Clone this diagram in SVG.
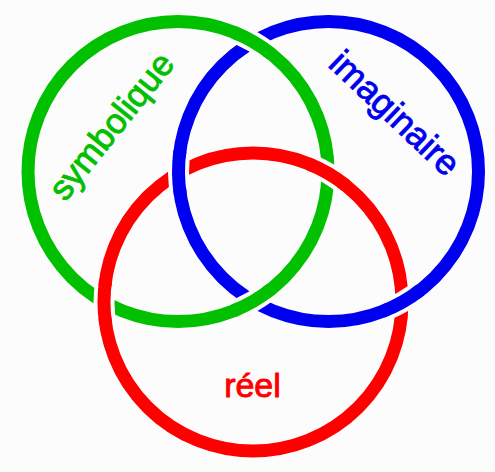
<svg xmlns="http://www.w3.org/2000/svg" xmlns:xlink="http://www.w3.org/1999/xlink" width="495" height="472" viewBox="0 0 495 472">
<style>
.ring{fill:none;stroke-width:13}
.halo{fill:none;stroke:#fcfcfc;stroke-width:21}
.g{stroke:#00c000}
.b{stroke:#0000f0}
.r{stroke:#ff0000}
.lbl{font-family:"Liberation Sans",Arial,sans-serif;text-anchor:middle;stroke-width:0.9}
</style>
<defs>
<circle id="cg" cx="178" cy="171.5" r="150"/>
<circle id="cb" cx="328.5" cy="171.5" r="150"/>
<circle id="cr" cx="253" cy="302" r="149"/>
</defs>
<rect width="495" height="472" fill="#fcfcfc"/>
<g id="ring-symbolique">
<use xlink:href="#cg" class="ring g"/>
</g>
<g id="ring-imaginaire">
<use xlink:href="#cb" class="ring b"/>
</g>
<g id="ring-reel">
<use xlink:href="#cr" class="ring r"/>
</g>
<g id="crossings">
<path class="halo" d="M239.01 34.47 A150 150 0 0 1 266.59 50.45"/>
<path class="ring g" d="M233.46 32.13 A150 150 0 0 1 271.37 54.11"/>
<path class="halo" d="M266.59 292.55 A150 150 0 0 1 239.01 308.53"/>
<path class="ring g" d="M271.37 288.89 A150 150 0 0 1 233.46 310.87"/>
<path class="halo" d="M104.86 317.96 A149 149 0 0 1 104.86 286.04"/>
<path class="ring r" d="M105.62 323.92 A149 149 0 0 1 105.62 280.08"/>
<path class="halo" d="M313.72 165.93 A149 149 0 0 1 341.31 181.99"/>
<path class="ring r" d="M308.19 163.59 A149 149 0 0 1 346.10 185.66"/>
<path class="halo" d="M179.49 188.74 A150 150 0 0 1 179.22 156.86"/>
<path class="ring b" d="M180.31 194.71 A150 150 0 0 1 179.92 150.88"/>
<path class="halo" d="M415.61 293.62 A150 150 0 0 1 387.83 309.27"/>
<path class="ring b" d="M420.47 290.00 A150 150 0 0 1 382.26 311.54"/>
</g>
<g id="label-symbolique"><text class="lbl g" fill="#00c000" font-size="35" transform="translate(120.5 133.5) rotate(-51.3)">symbolique</text></g>
<g id="label-imaginaire"><text class="lbl b" fill="#0000f0" font-size="35.5" transform="translate(386.5 121.9) rotate(43.4)">imaginaire</text></g>
<g id="label-reel"><text class="lbl r" fill="#ff0000" font-size="34" x="252.5" y="397">réel</text></g>
</svg>
